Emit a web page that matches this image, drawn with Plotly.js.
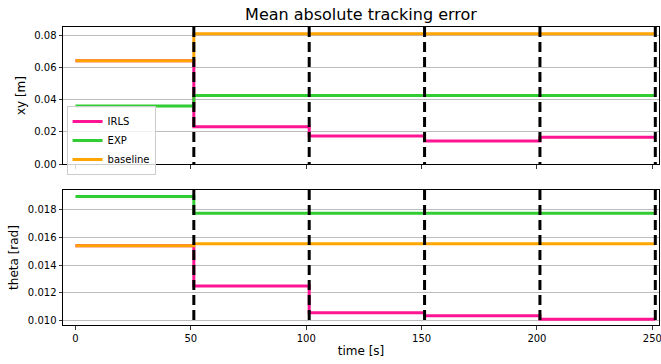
<!DOCTYPE html>
<html>
<head>
<meta charset="utf-8">
<script src="https://cdn.plot.ly/plotly-3.0.1.min.js"></script>
<style>html,body{margin:0;padding:0;background:#fff;}#chart{width:661px;height:364px;}</style>
</head>
<body>
<div id="chart"></div>
<script>
// Breakpoints of the piecewise-constant errors (time, s)
const timeSteps = [0, 51.3, 101.3, 151.3, 201.3, 251.3];
const switchTimes = [51.3, 101.3, 151.3, 201.3, 251.3];

// Mean absolute xy error [m] per segment (last value repeated to close the step)
const xyIRLS = [0.0641, 0.0231, 0.0174, 0.0143, 0.0167, 0.0167];
const xyEXP = [0.0360, 0.0426, 0.0426, 0.0426, 0.0426, 0.0426];
const xyBaseline = [0.0641, 0.0808, 0.0808, 0.0808, 0.0808, 0.0808];

// Mean absolute theta error [rad]
const thIRLS = [0.01540, 0.01247, 0.01053, 0.01031, 0.01005, 0.01005];
const thEXP = [0.01897, 0.01776, 0.01776, 0.01776, 0.01776, 0.01776];
const thBaseline = [0.01540, 0.01555, 0.01555, 0.01555, 0.01555, 0.01555];

const seriesNames = ['IRLS', 'EXP', 'baseline'];
const colors = ['#ff1493', '#32cd32', '#ffa500'];

const xyData = [xyIRLS, xyEXP, xyBaseline];
const thData = [thIRLS, thEXP, thBaseline];

const traces = [];
seriesNames.forEach((n, i) => {
  traces.push({
    x: timeSteps, y: xyData[i], name: n, type: 'scatter', mode: 'lines',
    line: {color: colors[i], width: 3, shape: 'hv'}, xaxis: 'x', yaxis: 'y',
    showlegend: true, legendgroup: n
  });
});
seriesNames.forEach((n, i) => {
  traces.push({
    x: timeSteps, y: thData[i], name: n, type: 'scatter', mode: 'lines',
    line: {color: colors[i], width: 3, shape: 'hv'}, xaxis: 'x2', yaxis: 'y2',
    showlegend: false, legendgroup: n
  });
});

const shapes = [];
switchTimes.forEach(t => {
  ['', '2'].forEach(s => {
    shapes.push({
      type: 'line', xref: 'x' + s, yref: 'y' + s + ' domain',
      x0: t, x1: t, y0: 1, y1: 0, layer: 'above',
      line: {color: '#000', width: 3, dash: '10px,5px'}
    });
  });
});

const font = {family: 'DejaVu Sans, sans-serif', size: 10, color: '#000'};
const xRange = [-5.4, 252.9];
const axisCommon = {
  showline: true, mirror: true, linecolor: '#000', linewidth: 1,
  ticks: 'outside', ticklen: 3.5, tickwidth: 0.8, tickcolor: '#000',
  zeroline: false, tickfont: font, ticklabeloverflow: 'allow'
};

const layout = {
  width: 661, height: 364,
  margin: {l: 63, r: 2, t: 27, b: 39},
  paper_bgcolor: '#fff', plot_bgcolor: '#fff',
  font: font,
  title: {text: 'Mean absolute tracking error', font: {family: 'DejaVu Sans, sans-serif', size: 16, color: '#000'},
          x: 0.5, xref: 'paper', y: 0.96, yref: 'container', yanchor: 'middle'},
  xaxis: Object.assign({}, axisCommon, {domain: [0, 1], range: xRange, anchor: 'y', showticklabels: false,
          tickvals: [0, 50, 100, 150, 200, 250], showgrid: false}),
  yaxis: Object.assign({}, axisCommon, {domain: [0.540, 1], range: [0, 0.085], anchor: 'x',
          tickvals: [0, 0.02, 0.04, 0.06, 0.08], tickformat: '.2f',
          showgrid: true, gridcolor: '#bdbdbd', gridwidth: 1,
          title: {text: 'xy [m]', font: {family: 'DejaVu Sans, sans-serif', size: 12, color: '#000'}, standoff: 6}}),
  xaxis2: Object.assign({}, axisCommon, {domain: [0, 1], range: xRange, anchor: 'y2',
          tickvals: [0, 50, 100, 150, 200, 250], showgrid: false,
          title: {text: 'time [s]', font: {family: 'DejaVu Sans, sans-serif', size: 12, color: '#000'}, standoff: 4}}),
  yaxis2: Object.assign({}, axisCommon, {domain: [0, 0.453], range: [0.00964, 0.01945], anchor: 'x2',
          tickvals: [0.010, 0.012, 0.014, 0.016, 0.018], tickformat: '.3f',
          showgrid: true, gridcolor: '#bdbdbd', gridwidth: 1,
          title: {text: 'theta [rad]', font: {family: 'DejaVu Sans, sans-serif', size: 12, color: '#000'}, standoff: 6}}),
  shapes: shapes,
  showlegend: true,
  legend: {x: 0.006, y: 0.735, xanchor: 'left', yanchor: 'top', xref: 'paper', yref: 'paper',
           bgcolor: 'rgba(255,255,255,0.8)', bordercolor: '#cccccc', borderwidth: 1,
           font: {family: 'DejaVu Sans, sans-serif', size: 10, color: '#000'},
           tracegroupgap: 0, itemwidth: 30}
};

Plotly.newPlot('chart', traces, layout, {displayModeBar: false, staticPlot: true});
</script>
</body>
</html>
